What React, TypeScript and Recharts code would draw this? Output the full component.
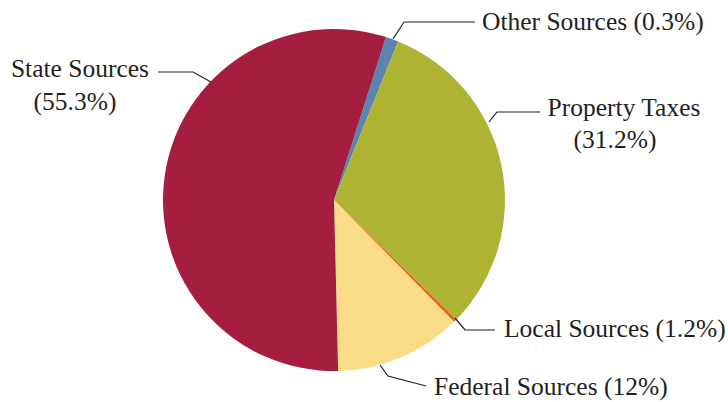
import React from "react";
import { PieChart, Pie, Cell } from "recharts";

const categories = ["Other Sources", "Property Taxes", "Local Sources", "Federal Sources", "State Sources"];
const values = [1.2, 31.2, 0.3, 12, 55.3];
const labelLines1 = ["Other Sources (0.3%)", "Property Taxes", "Local Sources (1.2%)", "Federal Sources (12%)", "State Sources"];
const labelLines2 = ["", "(31.2%)", "", "", "(55.3%)"];
const colors = ["#5A85B3", "#AFB334", "#F15A24", "#F9DC85", "#A51D3F"];

// label annotation layout (leader polyline points and text positions)
const labelLayout = [
  { pts: [[393, 39], [404, 22], [475, 22]], x1: 482, y1: 30, a1: "start", x2: 0, y2: 0 },
  { pts: [[489, 122], [497, 112], [540, 112]], x1: 624, y1: 116, a1: "middle", x2: 615, y2: 148 },
  { pts: [[455, 318], [465, 330], [495, 330]], x1: 504, y1: 337, a1: "start", x2: 0, y2: 0 },
  { pts: [[380, 365], [388, 376], [426, 386]], x1: 434, y1: 395, a1: "start", x2: 0, y2: 0 },
  { pts: [[211, 82], [193, 72], [158, 72]], x1: 80, y1: 77, a1: "middle", x2: 75, y2: 110 },
];

const data = categories.map((name, i) => ({ name, value: values[i] }));

const FONT = "'Liberation Serif', 'DejaVu Serif', serif";

const renderLabel = (props: any) => {
  const i = props.index;
  const l = labelLayout[i];
  return (
    <g key={`lbl-${i}`}>
      <polyline
        points={l.pts.map((p) => p.join(",")).join(" ")}
        fill="none"
        stroke="#231F20"
        strokeWidth={1.2}
      />
      <text x={l.x1} y={l.y1} textAnchor={l.a1 as any} fontFamily={FONT} fontSize={25.5} fill="#231F20">
        {labelLines1[i]}
      </text>
      {labelLines2[i] ? (
        <text x={l.x2} y={l.y2} textAnchor="middle" fontFamily={FONT} fontSize={25.5} fill="#231F20">
          {labelLines2[i]}
        </text>
      ) : null}
    </g>
  );
};

export default function App() {
  return (
    <div style={{ position: "absolute", left: 0, top: 0, width: 728, height: 402, background: "#fff" }}>
      <PieChart width={728} height={402} margin={{ top: 0, right: 0, bottom: 0, left: 0 }}>
        <Pie
          data={data}
          dataKey="value"
          nameKey="name"
          cx={334}
          cy={200}
          outerRadius={171}
          startAngle={72.3}
          endAngle={-287.7}
          stroke="none"
          label={renderLabel}
          labelLine={false}
          isAnimationActive={false}
        >
          {data.map((d, i) => (
            <Cell key={d.name} fill={colors[i]} />
          ))}
        </Pie>
      </PieChart>
    </div>
  );
}
